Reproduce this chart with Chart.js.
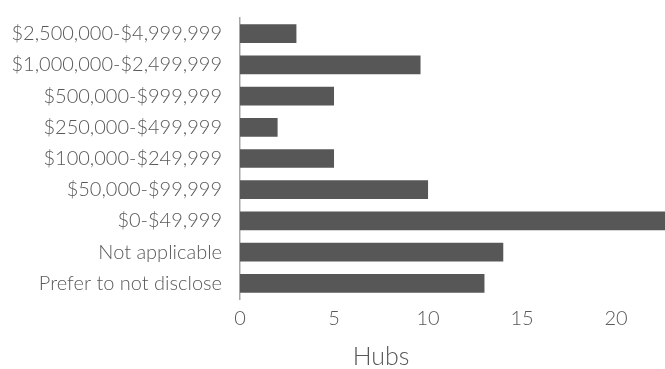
<!DOCTYPE html>
<html>
<head>
<meta charset="utf-8">
<script src="https://cdn.jsdelivr.net/npm/chart.js@4/dist/chart.umd.min.js"></script>
<style>
  html, body { margin: 0; padding: 0; background: #fff; }
  #wrap { width: 665px; height: 369px; }
</style>
</head>
<body>
<div id="wrap"><canvas id="chart" width="665" height="369"></canvas></div>
<script>
// budget ranges, top to bottom
const categories = [
    '$2,500,000-$4,999,999',
    '$1,000,000-$2,499,999',
    '$500,000-$999,999',
    '$250,000-$499,999',
    '$100,000-$249,999',
    '$50,000-$99,999',
    '$0-$49,999',
    'Not applicable',
    'Prefer to not disclose'
];
const hubs = [3, 9.6, 5, 2, 5, 10, 23, 14, 13];
const xTicks = [0, 5, 10, 15, 20];

const textColor = '#595959';
const fontFamily = 'Lato, "Open Sans", sans-serif';

// axis title sits under the 7.5 mark rather than the middle of the plot
const axisTitle = {
    id: 'axisTitle',
    afterDraw(chart) {
        const { ctx, scales } = chart;
        ctx.save();
        ctx.font = '300 25px ' + fontFamily;
        ctx.fillStyle = textColor;
        ctx.textAlign = 'center';
        ctx.textBaseline = 'middle';
        ctx.fillText('Hubs', scales.x.getPixelForValue(7.5), 357);
        ctx.restore();
    }
};

const ctx = document.getElementById('chart').getContext('2d');
new Chart(ctx, {
    type: 'bar',
    data: {
        labels: categories,
        datasets: [{
            label: 'Hubs',
            data: hubs,
            backgroundColor: '#575757',
            borderWidth: 0,
            categoryPercentage: 1,
            barPercentage: 0.6
        }]
    },
    options: {
        indexAxis: 'y',
        responsive: false,
        animation: false,
        layout: { padding: { top: 18, right: 0, left: 0, bottom: 0 } },
        plugins: {
            legend: { display: false },
            tooltip: { enabled: false }
        },
        scales: {
            x: {
                min: 0,
                max: 22.6,
                afterBuildTicks: (scale) => {
                    scale.ticks = xTicks.map(v => ({ value: v }));
                },
                afterFit: (scale) => { scale.height = 70; },
                grid: { display: false, drawTicks: false },
                border: { display: false },
                ticks: {
                    color: textColor,
                    padding: 8,
                    font: { family: fontFamily, size: 20, weight: '300' }
                }
            },
            y: {
                afterFit: (scale) => {
                    scale.width = 240;
                    // labels sit inside their bands, no extra room needed above/below
                    scale.paddingTop = 0;
                    scale.paddingBottom = 0;
                },
                grid: { display: false, drawTicks: false },
                border: { display: true, color: '#a6a6a6', width: 1.5 },
                ticks: {
                    color: textColor,
                    padding: 18,
                    font: { family: fontFamily, size: 20, weight: '300' }
                }
            }
        }
    },
    plugins: [axisTitle]
});
</script>
</body>
</html>
